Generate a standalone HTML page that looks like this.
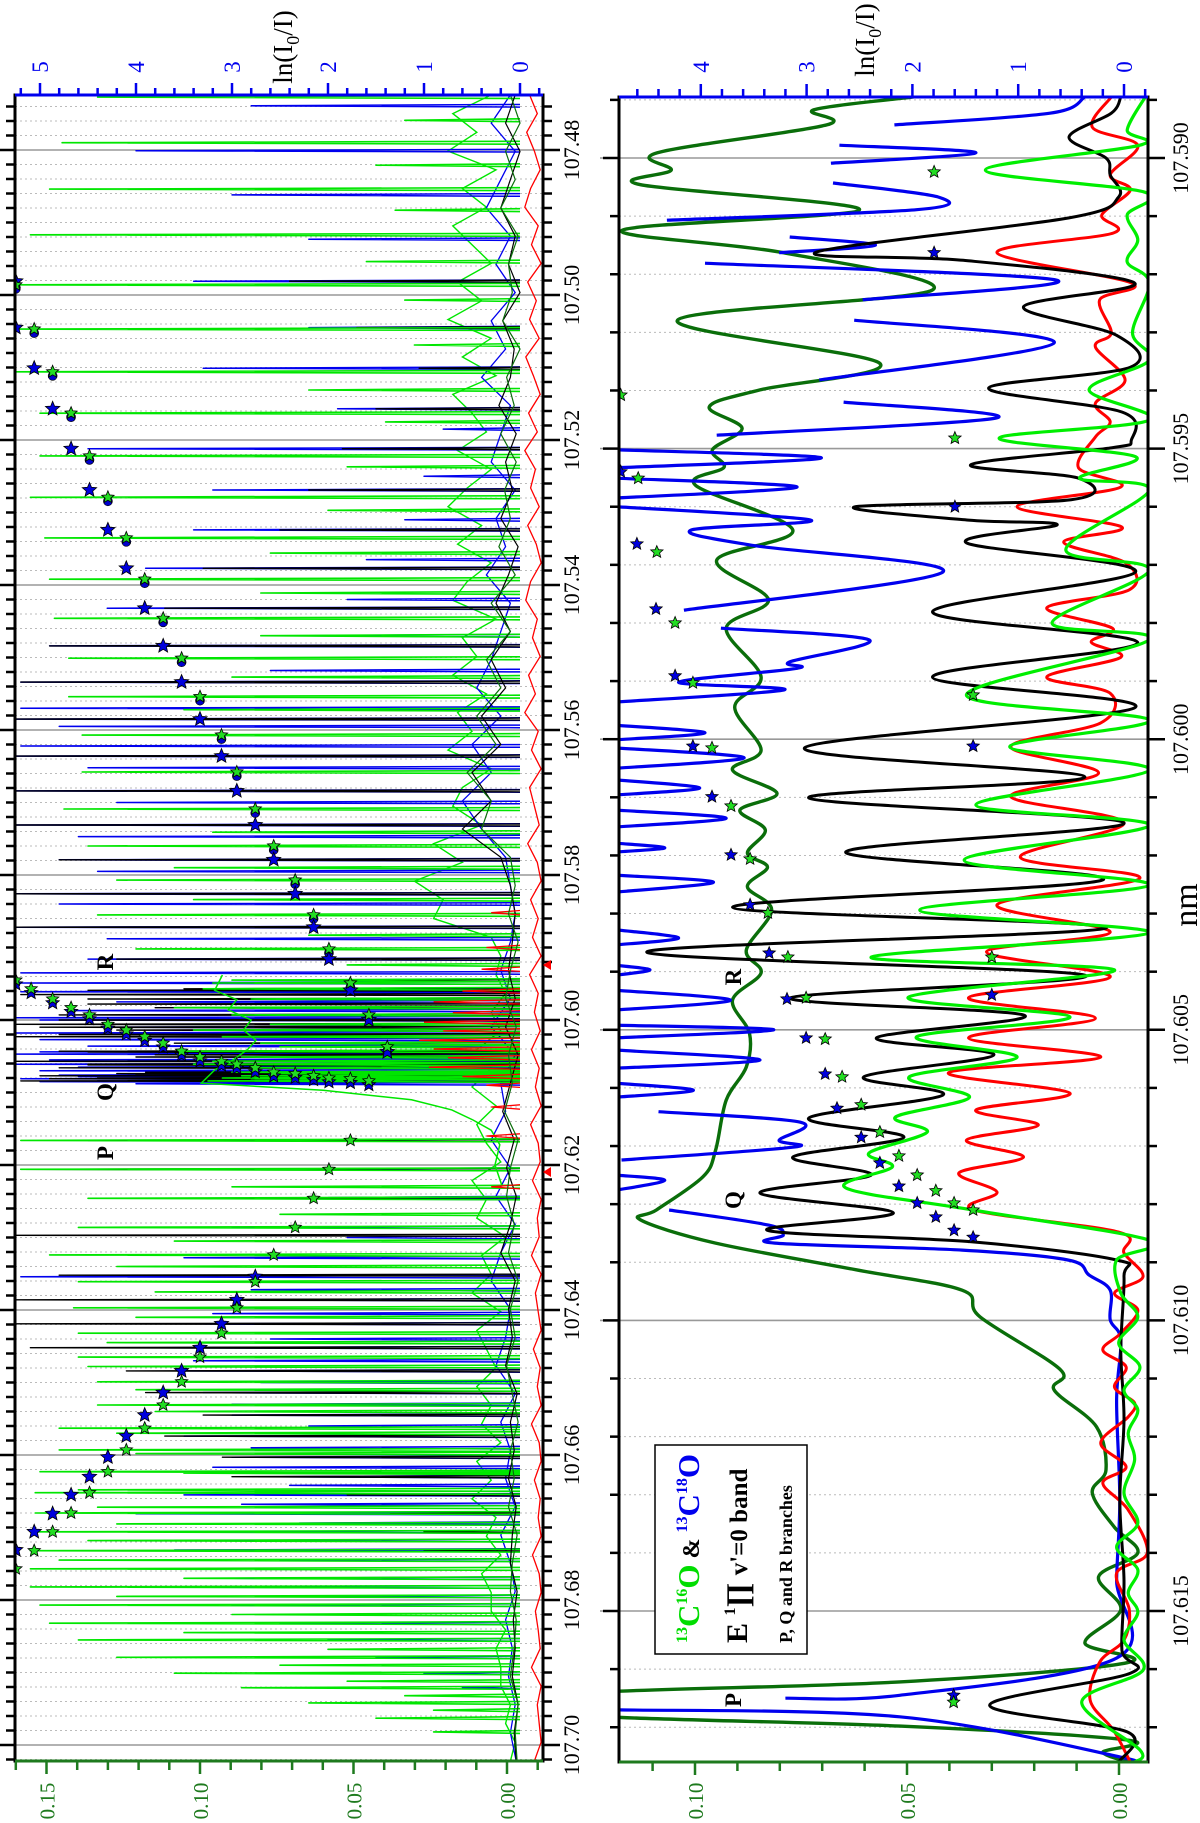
<!DOCTYPE html>
<html><head><meta charset="utf-8">
<style>
html,body{margin:0;padding:0;background:#fff;}
svg{display:block;}
text{font-family:"Liberation Serif",serif;}
</style></head>
<body>
<svg id="chart" xmlns="http://www.w3.org/2000/svg" width="1200" height="1823" viewBox="0 0 1200 1823">
<defs>
<clipPath id="clipTop"><rect x="15" y="95" width="528" height="1666"/></clipPath>
<clipPath id="clipBot"><rect x="619" y="97" width="529" height="1665"/></clipPath>
</defs>
<g id="layer"></g>
</svg>
<script>
// ===================== TOP PANEL DATA =====================
const topMajorTicks = [107.48,107.50,107.52,107.54,107.56,107.58,107.60,107.62,107.64,107.66,107.68,107.70];
const topMajorLabels = ["107.48","107.50","107.52","107.54","107.56","107.58","107.60","107.62","107.64","107.66","107.68","107.70"];
const topLnLabels = [0,1,2,3,4,5];
const topIntLabels = [0.00,0.05,0.10,0.15];

const greenLam = [107.4727,107.4790,107.4854,107.4917,107.4986,107.5047,107.5106,107.5163,107.5222,107.5279,107.5335,107.5392,107.5446,107.5501,107.5554,107.5607,107.5658,107.5709,107.5760,107.5807,107.5855,107.5902,107.5949,107.5993,107.6037,
 107.4759,107.4821,107.4883,107.4954,107.5007,107.5069,107.5131,107.5175,107.5237,107.5297,107.5356,107.5411,107.5470,107.5527,107.5572,107.5741,107.5790,107.5834,107.5883,107.5924,
 107.5945,107.5957,107.5971,107.5983,107.5993,107.6006,107.6014,107.6023,107.6032,107.6043,107.6051,107.6057,107.6061,107.6066,107.6072,107.6074,107.6077,107.6080,107.6081,107.6084,
 107.6166,107.6206,107.6246,107.6286,107.6324,107.6361,107.6397,107.6432,107.6465,107.6499,107.6531,107.6563,107.6593,107.6623,107.6652,107.6680,107.6706,107.6732,107.6757,
 107.6782,107.6807,107.6832,107.6855,107.6879,107.6901,107.6921,107.6942,107.6963,107.6982,
 107.6230,107.6268,107.6305,107.6340,107.6375,107.6410,107.6445,107.6478,107.6510,107.6540,107.6570,107.6598,107.6625,107.6648,107.6672,107.6695,107.6718,107.6745,107.6770,107.6795,107.6820,107.6845,107.6868,107.6890,107.6912,107.6932,107.6952];
const greenLn = [4.4,4.77,4.9,5.1,5.3,5.3,5.3,5.0,5.0,5.1,4.95,4.9,4.85,4.7,4.7,4.56,4.56,4.75,4.5,4.2,4.4,4.0,3.2,2.8,2.5,
 1.2,1.5,1.3,1.6,1.2,1.1,2.2,1.4,1.8,2.0,2.6,2.7,2.7,3.0,3.5,3.2,3.6,3.4,2.2,1.8,
 3.0,3.3,2.8,3.6,3.0,2.6,3.4,3.1,2.7,3.5,2.9,3.2,3.4,2.8,3.0,2.6,2.9,3.1,2.8,3.25,
 5.2,5.2,4.5,4.6,4.9,4.6,4.65,4.6,4.6,4.4,4.4,4.8,4.8,5.0,5.05,5.05,5.05,5.1,5.1,
 5.1,5.0,4.9,4.6,4.2,3.6,2.9,2.2,1.5,0.9,
 3.0,2.5,3.6,4.2,3.8,4.0,4.3,4.5,4.0,3.8,4.2,4.0,3.5,4.6,4.4,4.2,4.5,4.8,3.5,4.2,3.0,3.5,2.0,2.5,1.8,1.2,0.9];

const blueLam = [107.4739,107.4801,107.4862,107.4923,
 107.4981,107.5045,107.5101,107.5157,107.5212,107.5269,107.5324,107.5377,107.5432,107.5484,107.5534,107.5585,107.5636,107.5684,107.5731,107.5779,107.5826,107.5872,107.5916,107.5959,107.6000,107.6044,
 107.5570,107.5595,107.5622,107.5652,107.5700,107.5747,107.5795,107.5840,107.5888,107.5935,107.5185,107.5250,107.5310,107.5365,107.5420,107.5470,107.5518,
 107.5949,107.5961,107.5975,107.5987,107.5997,107.6010,107.6018,107.6027,107.6036,107.6047,107.6055,107.6061,107.6065,107.6070,107.6076,107.6078,107.6081,107.6084,107.6085,107.6088,
 107.6166,107.6206,107.6246,107.6286,
 107.6354,107.6386,107.6419,107.6452,107.6484,107.6514,107.6545,107.6574,107.6603,107.6630,107.6655,107.6681,107.6706,107.6731,
 107.6782,107.6807,107.6832,107.6855,107.6879,107.6901,107.6921,
 107.6245,107.6300,107.6328,107.6372,107.6405,107.6440,107.6470,107.6500,107.6530,107.6560,107.6590,107.6617,107.6642,107.6668,107.6694,107.6718,107.6745,107.6770,107.6795,107.6832];
const blueLn = [2.8,4.0,3.0,2.2,
 3.4,2.2,3.3,1.9,4.5,3.2,3.4,3.9,4.3,4.9,5.2,5.25,5.25,5.25,5.25,4.8,5.25,5.25,4.5,4.0,5.0,5.0,
 5.2,4.8,5.2,4.5,4.2,4.6,4.4,4.8,4.3,5.2,0.8,1.0,1.2,1.6,1.8,2.2,2.6,
 5.2,5.2,4.2,4.7,5.25,4.3,5.25,5.0,4.5,5.25,4.9,5.25,4.6,5.0,4.8,4.6,5.2,4.4,5.0,4.0,
 3.1,3.0,3.2,3.0,
 5.2,3.0,3.3,3.8,3.5,3.3,3.0,3.5,3.0,2.5,3.5,4.0,3.8,3.6,
 3.9,3.0,2.5,2.0,1.5,1.0,0.6,
 2.0,1.8,3.5,2.8,3.2,2.6,3.4,2.7,3.0,2.2,2.8,3.2,2.4,2.9,2.3,3.3,2.5,3.0,2.2,2.0];

const blackLam = [107.4981,107.5045,107.5101,107.5157,107.5212,107.5269,107.5324,107.5377,107.5432,107.5484,107.5534,107.5585,107.5636,107.5684,107.5731,107.5779,107.5826,107.5872,107.5916,107.5959,107.6000,107.6044,
 107.5945,107.5957,107.5971,107.5983,107.5993,107.6006,107.6014,107.6023,107.6032,107.6043,107.6051,107.6057,107.6061,107.6066,107.6072,107.6074,107.6077,107.6080,107.6081,107.6084,
 107.5965,107.5978,107.6010,107.6020,107.6048,107.6062,107.6075,
 107.6166,107.6206,107.6246,107.6297,107.6352,107.6386,107.6419,107.6452,107.6484,107.6514,107.6545,107.6574,107.6603,107.6630,107.6655,107.6681,107.6706,107.6731];
const blackLn = [2.4,1.7,1.05,1.5,1.85,2.2,2.5,3.3,3.7,4.9,5.2,5.25,5.25,5.25,5.25,4.8,5.25,5.25,4.2,4.5,4.8,4.5,
 2.3,3.5,4.5,3.8,4.8,5.25,4.2,5.25,3.6,4.8,4.0,5.25,4.5,4.8,3.9,4.2,5.0,4.4,4.9,5.2,
 5.2,4.5,5.0,4.8,3.8,4.5,4.0,
 4.5,5.2,3.0,5.25,4.8,5.25,5.25,5.1,4.1,3.9,3.3,3.7,3.1,3.0,1.8,1.35,1.0,1.0];

const redLam = [107.5852,107.5900,107.5930,107.5960,107.5975,107.5990,107.6003,107.6015,107.6028,107.6040,107.6052,107.6065,107.6078,107.6090,107.6120,107.6160,107.6230];
const redLn = [0.3,0.35,0.4,0.6,0.9,0.7,1.0,0.8,1.05,0.9,0.75,0.95,0.6,0.35,0.3,0.35,0.3];

const envLam = [107.5938,107.5959,107.5972,107.5986,107.6000,107.6014,107.6028,107.6041,107.6055,107.6069,107.6087,107.6097,107.6110,107.6124,107.6138,107.6152,107.6172,107.6200,107.6228];
const envLn = [3.10,3.18,2.95,3.04,2.80,2.88,2.75,2.84,2.99,3.18,3.32,2.05,1.13,0.71,0.49,0.30,0.21,0.26,0.19];

const noiseStart = 107.4724, noiseEnd = 107.7022;
const redNoise = [-0.1,-0.18,-0.07,-0.15,-0.21,-0.11,-0.05,-0.19,-0.12,-0.22,-0.08,-0.17,-0.1,-0.2,-0.06,-0.14,-0.21,-0.09,-0.18,-0.05,-0.16,-0.11,-0.2,-0.08,-0.17,-0.22,-0.11,-0.06,-0.18,-0.13,-0.21,-0.09,-0.16,-0.05,-0.19,-0.12,-0.22,-0.1,-0.15,-0.2,-0.08,-0.18,-0.22,-0.11,-0.19,-0.13,-0.22,-0.1,-0.19,-0.15,-0.21,-0.12,-0.2,-0.16,-0.22,-0.11,-0.19,-0.21,-0.13,-0.22,-0.18,-0.2,-0.12,-0.22,-0.16,-0.19,-0.22,-0.14,-0.21,-0.18,-0.22,-0.12,-0.2,-0.22,-0.15,-0.21,-0.19,-0.22,-0.13,-0.2,-0.22,-0.16,-0.19,-0.21,-0.12,-0.22,-0.18,-0.2,-0.22,-0.15];
const greenNoise = [0.3,0.7,0.45,0.75,0.25,0.6,0.35,0.7,0.5,0.3,0.65,0.4,0.75,0.3,0.6,0.25,0.7,0.5,0.35,0.65,0.3,0.55,0.75,0.4,0.65,0.3,0.55,0.7,0.25,0.6,0.45,0.7,0.35,0.65,0.5,0.75,0.3,0.6,0.7,0.4,0.9,0.6,1.1,0.8,0.9,0.3,0.2,0.25,0.15,0.3,0.2,0.45,0.3,0.5,0.25,0.45,0.35,0.2,0.5,0.35,0.45,0.15,0.4,0.3,0.5,0.2,0.45,0.35,0.25,0.45,0.3,0.4,0.2,0.45,0.3,0.5,0.25,0.35,0.2,0.4,0.3,0.3,0.15,0.25,0.2,0.2,0.1,0.15,0.05,0.1];
const blueNoise = [0.1,0.3,0.05,0.2,0.35,0.1,0.25,0.05,0.3,0.15,0.4,0.1,0.2,0.3,0.05,0.25,0.15,0.35,0.1,0.2,0.3,0.45,0.2,0.5,0.3,0.6,0.4,0.15,0.1,0.05,0.1,0.2,0.1,0.3,0.05,0.2,0.15,0.3,0.1,0.25,0.05,0.2,0.3,0.1,0.15,0.25,0.05,0.2,0.1,0.15,0.05,0.2,0.1,0.05,0.15,0.08,0.12,0.05,0.1,0.04];
const blackNoise = [0.05,0.15,0.0,0.1,0.2,0.05,0.12,0.0,0.18,0.06,0.1,0.22,0.04,0.15,0.08,0.2,0.02,0.12,0.25,0.1,0.3,0.15,0.4,0.2,0.5,0.3,0.6,0.2,0.1,0.05,0.08,0.12,0.05,0.15,0.02,0.1,0.18,0.06,0.14,0.04,0.1,0.2,0.05,0.12,0.08,0.15,0.03,0.1,0.06,0.12,0.04,0.08,0.1,0.03,0.07,0.05,0.08,0.02,0.06,0.04];
const dgreenNoise = [0.1,0.0,0.15,0.05,0.2,0.02,0.12,0.08,0.18,0.0,0.14,0.06,0.2,0.04,0.16,0.1,0.22,0.05,0.3,0.1,0.35,0.2,0.45,0.25,0.55,0.3,0.4,0.1,0.05,0.12,0.02,0.1,0.15,0.04,0.12,0.08,0.16,0.02,0.1,0.14,0.06,0.12,0.02,0.1,0.05,0.14,0.08,0.02,0.1,0.06,0.12,0.03,0.08,0.1,0.04,0.06,0.1,0.02,0.05,0.03];

const tGreenStarLam = [107.4986,107.5047,107.5106,107.5163,107.5222,107.5279,107.5335,107.5392,107.5446,107.5501,107.5554,107.5607,107.5658,107.5709,107.5760,107.5807,107.5855,107.5902,107.5949,107.5993,107.6037];
const tGreenStarInt = [0.160,0.154,0.148,0.142,0.136,0.130,0.124,0.118,0.112,0.106,0.100,0.093,0.088,0.082,0.076,0.069,0.063,0.058,0.051,0.045,0.039];
const tBlueStarLam = [107.4981,107.5045,107.5101,107.5157,107.5212,107.5269,107.5324,107.5377,107.5432,107.5484,107.5534,107.5585,107.5636,107.5684,107.5731,107.5779,107.5826,107.5872,107.5916,107.5959,107.6000,107.6044];
const tBlueStarInt = [0.160,0.160,0.154,0.148,0.142,0.136,0.130,0.124,0.118,0.112,0.106,0.100,0.093,0.088,0.082,0.076,0.069,0.063,0.058,0.051,0.045,0.039];
const tQStarLam = [107.5945,107.5957,107.5971,107.5983,107.5993,107.6006,107.6014,107.6023,107.6032,107.6043,107.6051,107.6057,107.6061,107.6066,107.6072,107.6074,107.6077,107.6080,107.6081,107.6084];
const tQStarInt = [0.160,0.155,0.148,0.142,0.136,0.130,0.124,0.118,0.112,0.106,0.100,0.093,0.088,0.082,0.076,0.069,0.063,0.058,0.051,0.045];
const tPGreenStarLam = [107.6166,107.6206,107.6246,107.6286,107.6324,107.6361,107.6397,107.6432,107.6465,107.6499,107.6531,107.6563,107.6593,107.6623,107.6652,107.6680,107.6706,107.6732,107.6757];
const tPGreenStarInt = [0.051,0.058,0.063,0.069,0.076,0.082,0.088,0.093,0.100,0.106,0.112,0.118,0.124,0.130,0.136,0.142,0.148,0.154,0.160];
const tPBlueStarLam = [107.6354,107.6386,107.6419,107.6452,107.6484,107.6514,107.6545,107.6574,107.6603,107.6630,107.6655,107.6681,107.6706,107.6731];
const tPBlueStarInt = [0.082,0.088,0.093,0.100,0.106,0.112,0.118,0.124,0.130,0.136,0.142,0.148,0.154,0.160];

// ===================== BOTTOM PANEL DATA =====================
const botMajorTicks = [107.590,107.595,107.600,107.605,107.610,107.615];
const botMajorLabels = ["107.590","107.595","107.600","107.605","107.610","107.615"];
const botLnLabels = [0,1,2,3,4];
const botIntLabels = [0.00,0.05,0.10];

const dgLam = [107.58895,107.58917,107.58943,107.58991,107.59021,107.59046,107.59089,107.59124,107.59163,107.59227,107.59279,107.59353,107.59399,107.59428,107.59465,107.59502,107.59532,107.59563,107.59640,107.59692,107.59760,107.59809,107.59893,107.59945,107.60019,107.60053,107.60093,107.60122,107.60156,107.60196,107.60220,107.60254,107.60294,107.60363,107.60402,107.60449,107.60506,107.60564,107.60621,107.60707,107.60753,107.60810,107.60827,107.60867,107.60913,107.60948,107.60994,107.61085,107.61120,107.61183,107.61257,107.61297,107.61356,107.61400,107.61441,107.61498,107.61555,107.61589,107.61622,107.61639,107.61660,107.61682,107.61698,107.61722,107.61743,107.61760];
const dgLn = [1.99,2.93,2.81,4.41,4.28,4.57,2.50,4.74,3.22,1.81,4.22,2.31,3.44,3.92,3.61,3.89,3.78,4.05,3.13,3.85,3.36,3.76,3.43,3.68,3.43,3.70,3.28,3.63,3.39,3.56,3.37,3.56,3.33,3.57,3.43,3.70,3.54,3.57,3.76,3.86,3.98,4.42,4.57,3.86,2.53,1.53,1.36,0.60,0.66,0.26,0.17,0.30,0.09,-0.13,0.24,0.03,0.37,-0.03,2.12,4.9,6.5,4.9,2.12,-0.03,0.20,-0.05];

const bkLam = [107.58895,107.58923,107.58964,107.59000,107.59029,107.59067,107.59103,107.59162,107.59176,107.59215,107.59256,107.59305,107.59360,107.59396,107.59437,107.59485,107.59499,107.59528,107.59551,107.59588,107.59600,107.59623,107.59631,107.59662,107.59712,107.59781,107.59834,107.59893,107.59946,107.60015,107.60065,107.60101,107.60144,107.60194,107.60242,107.60289,107.60325,107.60366,107.60406,107.60445,107.60475,107.60514,107.60543,107.60581,107.60612,107.60652,107.60685,107.60719,107.60750,107.60781,107.60815,107.60845,107.60865,107.60896,107.60925,107.61051,107.61171,107.61309,107.61447,107.61567,107.61607,107.61662,107.61708,107.61760];
const bkLn = [0.03,0.12,0.52,0.17,0.13,0.05,0.52,2.91,1.52,-0.10,0.95,0.07,-0.06,1.28,0.02,-0.07,0.13,1.45,0.43,0.50,2.54,1.47,0.63,1.49,-0.11,1.81,-0.13,1.81,-0.10,3.02,0.37,2.98,0.00,2.63,0.20,3.70,0.17,4.51,0.37,3.15,0.94,2.34,1.23,2.46,1.71,2.98,2.08,3.13,2.39,3.44,2.18,3.37,1.43,0.07,0.00,0.03,0.00,0.04,0.00,0.02,-0.06,1.27,-0.03,0.05];

const rdLam = [107.58895,107.58947,107.58978,107.59029,107.59055,107.59098,107.59129,107.59163,107.59215,107.59244,107.59301,107.59325,107.59382,107.59422,107.59454,107.59480,107.59533,107.59566,107.59600,107.59635,107.59661,107.59697,107.59743,107.59774,107.59809,107.59833,107.59859,107.59893,107.59921,107.59972,107.60013,107.60058,107.60099,107.60144,107.60203,107.60239,107.60285,107.60332,107.60366,107.60409,107.60445,107.60480,107.60514,107.60547,107.60574,107.60609,107.60638,107.60664,107.60690,107.60719,107.60746,107.60779,107.60810,107.60848,107.60884,107.60925,107.60953,107.60982,107.61022,107.61051,107.61080,107.61115,107.61142,107.61166,107.61211,107.61252,107.61280,107.61326,107.61400,107.61435,107.61498,107.61550,107.61588,107.61653,107.61705,107.61760];
const rdLn = [0.12,0.30,-0.13,0.13,-0.06,0.21,0.10,1.20,-0.07,0.23,0.12,0.27,-0.01,0.27,0.13,0.27,0.43,0.03,1.01,0.02,0.57,-0.02,-0.05,0.73,0.11,0.31,0.03,0.73,0.13,0.22,1.07,0.24,1.07,0.00,0.98,-0.15,1.20,0.13,1.30,0.13,1.47,0.27,1.47,0.22,1.66,0.51,1.40,0.81,1.49,0.95,1.56,1.20,1.42,0.05,0.00,-0.18,0.09,-0.13,0.03,0.20,-0.02,0.09,-0.10,-0.04,0.22,-0.02,0.20,-0.04,-0.22,0.07,-0.05,0.00,0.23,0.32,0.10,-0.06];

const lgLam = [107.58895,107.58952,107.58978,107.59021,107.59059,107.59098,107.59141,107.59179,107.59215,107.59301,107.59348,107.59399,107.59451,107.59482,107.59514,107.59551,107.59571,107.59674,107.59709,107.59800,107.59829,107.59924,107.59967,107.60013,107.60053,107.60113,107.60148,107.60208,107.60251,107.60294,107.60333,107.60375,107.60397,107.60444,107.60478,107.60512,107.60547,107.60581,107.60616,107.60650,107.60676,107.60712,107.60736,107.60772,107.60810,107.60862,107.60896,107.60953,107.60994,107.61039,107.61080,107.61120,107.61154,107.61194,107.61240,107.61297,107.61349,107.61390,107.61429,107.61469,107.61503,107.61550,107.61602,107.61657,107.61739,107.61760];
const lgLn = [-0.20,-0.03,-0.15,1.31,-0.20,-0.03,-0.13,-0.03,-0.24,-0.08,-0.24,0.33,-0.24,1.18,-0.11,0.42,-0.24,0.55,-0.24,0.68,-0.24,1.49,-0.24,1.08,-0.24,1.40,-0.24,1.51,-0.24,1.93,-0.24,2.39,0.09,2.04,0.51,1.96,1.01,2.03,1.46,2.16,1.86,2.41,2.19,2.63,1.43,-0.24,0.07,0.03,-0.13,0.05,-0.15,0.00,-0.13,-0.04,-0.10,0.00,-0.13,0.07,-0.13,-0.04,-0.13,0.00,-0.18,0.40,-0.15,-0.10];

const blLam = [107.58895,107.58923,107.58943,null,107.58978,107.58991,107.59009,null,107.59043,107.59067,107.59089,107.59107,null,107.59136,107.59150,107.59163,null,107.59181,107.59210,107.59244,null,107.59279,107.59318,107.59382,null,107.59420,107.59447,107.59477,null,107.59502,107.59516,107.59533,null,107.59551,107.59566,107.59585,null,107.59600,107.59623,107.59640,107.59666,107.59712,107.59778,null,107.59809,107.59829,107.59867,107.59878,107.59902,107.59915,107.59936,null,107.59976,107.59989,107.60001,null,107.60015,107.60032,107.60050,null,107.60070,107.60084,107.60096,null,107.60122,107.60136,107.60151,null,107.60179,107.60187,107.60194,null,107.60234,107.60246,107.60263,null,107.60328,107.60342,107.60354,null,107.60389,107.60397,107.60406,null,107.60432,107.60449,107.60466,null,107.60492,107.60500,107.60514,null,107.60535,107.60552,107.60566,null,107.60592,107.60604,107.60616,null,107.60641,107.60659,107.60690,107.60702,107.60724,null,107.60750,107.60759,107.60776,null,107.60810,107.60836,107.60853,107.60867,107.60879,107.60896,107.60922,107.60948,107.60999,107.61034,107.61137,107.61309,107.61447,107.61581,107.61645,107.61650,null,107.61670,107.61682,107.61751,107.61760];
const blLn = [0.37,0.70,2.17,null,2.69,1.40,2.77,null,2.75,1.76,1.96,4.32,null,3.16,2.35,3.26,null,3.96,0.64,2.47,null,2.55,0.66,2.88,null,2.65,1.20,3.85,null,4.8,2.86,4.8,null,4.8,3.09,4.8,null,4.8,2.96,4.09,3.53,1.71,4.16,null,3.81,2.41,3.16,3.09,4.21,3.21,4.8,null,4.8,3.96,4.8,null,4.8,3.59,4.8,null,4.8,4.01,4.8,null,4.8,3.76,4.8,null,4.8,4.34,4.8,null,4.8,3.88,4.8,null,4.8,4.21,4.8,null,4.8,4.48,4.8,null,4.8,3.72,4.8,null,4.8,3.31,4.8,null,4.8,3.44,4.8,null,4.8,4.07,4.8,null,4.40,3.06,3.26,3.13,4.75,null,4.8,4.34,4.8,null,4.3,3.36,3.22,3.30,1.53,0.53,0.33,0.13,0.13,0.03,0.07,0.04,0.07,0.07,2.12,3.2,null,4.8,2.12,0.04,0.03];

const bGreenStarLam = [107.59024,107.59408,107.59482,107.59551,107.59678,107.59800,107.59903,107.59924,107.60015,107.60115,107.60206,107.60299,107.60375,107.60375,107.60445,107.60516,107.60581,107.60629,107.60676,107.60717,107.60750,107.60777,107.60798,107.60810,107.61657];
const bGreenStarInt = [0.0436,0.1175,0.0387,0.1134,0.1090,0.1047,0.1005,0.0344,0.0960,0.0915,0.0870,0.0828,0.0781,0.0300,0.0738,0.0693,0.0653,0.0608,0.0564,0.0519,0.0476,0.0432,0.0389,0.0344,0.0390];
const bBlueStarLam = [107.59163,107.59540,107.59600,107.59664,107.59776,107.59891,107.60012,107.60012,107.60099,107.60199,107.60285,107.60368,107.60440,107.60447,107.60514,107.60576,107.60635,107.60685,107.60729,107.60769,107.60798,107.60822,107.60845,107.60857,107.61645];
const bBlueStarInt = [0.0436,0.1175,0.0387,0.1137,0.1092,0.1047,0.1005,0.0344,0.0960,0.0915,0.0870,0.0825,0.0300,0.0783,0.0738,0.0693,0.0665,0.0608,0.0564,0.0519,0.0476,0.0432,0.0389,0.0344,0.0390];

// ===================== AXES =====================
const NS = "http://www.w3.org/2000/svg";
const layer = document.getElementById('layer');
function ty(l){ return 150 + (l - 107.48) * 7250; }
function txLn(v){ return 520 - 96 * v; }
function txI(v){ return 507 - 3070 * v; }
function by(l){ return 158 + (l - 107.59) * 58120; }
function bxLn(v){ return 1124 - 105.8 * v; }
function bxI(v){ return 1119 - 4240 * v; }

function el(tag, attrs, parent){
  const e = document.createElementNS(NS, tag);
  for (const k in attrs) e.setAttribute(k, attrs[k]);
  (parent || layer).appendChild(e);
  return e;
}
function starPts(cx, cy, r){
  let p = [];
  for (let i = 0; i < 10; i++){
    const a = i*Math.PI/5 - Math.PI/2;
    const rr = (i % 2 === 0) ? r : r*0.45;
    p.push((cx + rr*Math.cos(a)).toFixed(1) + ',' + (cy + rr*Math.sin(a)).toFixed(1));
  }
  return p.join(' ');
}
function rotText(x, y, str, size, fill, anchor, weight, name){
  const t = el('text', {transform:`translate(${x},${y}) rotate(-90)`, 'font-size':size, fill:fill, 'text-anchor':anchor||'middle', 'font-weight':weight||'normal'});
  t.textContent = str;
  
  
  return t;
}

// ---------- TOP PANEL FRAME ----------
const gTopGrid = el('g', {});


for (let k = 0; k <= 115; k++){
  const l = 107.474 + k*0.002;
  const y = ty(l);
  if (y < 95 || y > 1761) continue;
  const major = Math.abs(((l - 107.48)/0.02) - Math.round((l - 107.48)/0.02)) < 0.01;
  if (major){
    const ln = el('line', {x1:0, x2:553, y1:y, y2:y, stroke:'#999', 'stroke-width':1.6}, gTopGrid);
    
    
    el('line', {x1:0, x2:15, y1:y, y2:y, stroke:'#000', 'stroke-width':2.5}, gTopGrid);
    el('line', {x1:543, x2:560, y1:y, y2:y, stroke:'#000', 'stroke-width':2.5}, gTopGrid);
  } else {
    const ln = el('line', {x1:15, x2:543, y1:y, y2:y, stroke:'#bbb', 'stroke-width':1, 'stroke-dasharray':'2,3'}, gTopGrid);
    
    
    el('line', {x1:6, x2:15, y1:y, y2:y, stroke:'#000', 'stroke-width':2.5}, gTopGrid);
    el('line', {x1:543, x2:552, y1:y, y2:y, stroke:'#000', 'stroke-width':2.5}, gTopGrid);
  }
}
topMajorTicks.forEach((l, i) => {
  rotText(579, ty(l), topMajorLabels[i], 22, '#000', 'middle', 'normal', 'top-wavelength-tick-label');
});
for (let k = -1; k <= 26; k++){
  const v = k*0.2;
  const x = txLn(v);
  if (x < 15 || x > 543) continue;
  const major = (k % 5 === 0);
  el('line', {x1:x, x2:x, y1:major?83:88, y2:95, stroke:'#0000ee', 'stroke-width':2.5});
}
topLnLabels.forEach(v => { rotText(txLn(v)+8, 67, String(v), 23, '#0000ee', 'middle', 'normal', 'top-ln-tick-label'); });
for (let k = -1; k <= 16; k++){
  const v = k*0.01, x = txI(v);
  if (x < 15 || x > 543) continue;
  el('line', {x1:x, x2:x, y1:1761, y2:(k%5===0)?1774:1770, stroke:'#1e7a1e', 'stroke-width':2.5});
}
topIntLabels.forEach(v => { rotText(txI(v)+8, 1801, v.toFixed(2), 21, '#1e7a1e', 'middle', 'normal', 'top-intensity-tick-label'); });

// ---------- TOP PANEL DATA ----------
const gTop = el('g', {'clip-path':'url(#clipTop)'});



function spikePath(lams, lns, w){
  let d = '';
  for (let i = 0; i < lams.length; i++){
    const y = ty(lams[i]), x = txLn(lns[i]);
    d += `M${txLn(0).toFixed(1)},${ty(lams[i]-w).toFixed(1)}L${x.toFixed(1)},${y.toFixed(1)}L${txLn(0).toFixed(1)},${ty(lams[i]+w).toFixed(1)}`;
  }
  return d;
}
function noisePath(arr){
  let d = '';
  const step = (noiseEnd - noiseStart)/(arr.length - 1);
  arr.forEach((v, i) => { d += (i ? 'L' : 'M') + txLn(v).toFixed(1) + ',' + ty(noiseStart + i*step).toFixed(1); });
  return d;
}
function linePath(lams, lns, fx, fy){
  let d = '';
  lams.forEach((l, i) => { d += (i ? 'L' : 'M') + fx(lns[i]).toFixed(1) + ',' + fy(l).toFixed(1); });
  return d;
}

const pGN = el('path', {d:noisePath(greenNoise), fill:'none', stroke:'#00e600', 'stroke-width':1.4}, gTop);


const pBN = el('path', {d:noisePath(blueNoise), fill:'none', stroke:'#0000ee', 'stroke-width':1.3}, gTop);


const pBl = el('path', {d:spikePath(blueLam, blueLn, 0.00018), fill:'none', stroke:'#0000ee', 'stroke-width':1.5, 'stroke-linejoin':'round'}, gTop);


const pBk = el('path', {d:spikePath(blackLam, blackLn, 0.00014), fill:'none', stroke:'#000', 'stroke-width':1.4, 'stroke-linejoin':'round'}, gTop);


const pGr = el('path', {d:spikePath(greenLam, greenLn, 0.0002), fill:'none', stroke:'#00e600', 'stroke-width':1.6, 'stroke-linejoin':'round'}, gTop);


const pEnv = el('path', {d:linePath(envLam, envLn, txLn, ty), fill:'none', stroke:'#00e600', 'stroke-width':1.5}, gTop);


const pKN = el('path', {d:noisePath(blackNoise), fill:'none', stroke:'#000', 'stroke-width':1.2}, gTop);


const pRN = el('path', {d:noisePath(redNoise), fill:'none', stroke:'#ff0000', 'stroke-width':1.3}, gTop);


const pRd = el('path', {d:spikePath(redLam, redLn, 0.0003), fill:'none', stroke:'#ff0000', 'stroke-width':1.3}, gTop);


const pDN = el('path', {d:noisePath(dgreenNoise), fill:'none', stroke:'#0a6e0a', 'stroke-width':1.2}, gTop);



tGreenStarLam.forEach((l, i) => {
  const c = el('circle', {cx:txI(tGreenStarInt[i]), cy:ty(l)+4, r:4.5, fill:'#0000cc', stroke:'#000', 'stroke-width':0.6}, gTop);
  
  
});
function drawStars(lams, ints, fx, fy, r, fill, g, name, dy){
  lams.forEach((l, i) => {
    const s = el('polygon', {points:starPts(fx(ints[i]), fy(l) + (dy||0), r), fill:fill, stroke:'#000', 'stroke-width':0.8}, g);
    
    
  });
}
drawStars(tBlueStarLam, tBlueStarInt, txI, ty, 7.5, '#0000dd', gTop, 'blue-r-star');
drawStars(tGreenStarLam, tGreenStarInt, txI, ty, 6.5, '#22dd22', gTop, 'green-r-star');
drawStars(tQStarLam, tQStarInt, txI, ty, 7, '#0000dd', gTop, 'blue-q-star', 4);
drawStars(tQStarLam, tQStarInt, txI, ty, 6.5, '#22dd22', gTop, 'green-q-star');
drawStars(tPBlueStarLam, tPBlueStarInt, txI, ty, 7.5, '#0000dd', gTop, 'blue-p-star');
drawStars(tPGreenStarLam, tPGreenStarInt, txI, ty, 6.5, '#22dd22', gTop, 'green-p-star');

const fT = el('rect', {x:15, y:95, width:528, height:1666, fill:'none', stroke:'#000', 'stroke-width':3});


el('line', {x1:15, x2:543, y1:95, y2:95, stroke:'#0000ee', 'stroke-width':3});
el('line', {x1:15, x2:543, y1:1761, y2:1761, stroke:'#1e7a1e', 'stroke-width':3});
[965, 1172].forEach(y => {
  const tri = el('polygon', {points:`${543},${y} ${551},${y-5} ${551},${y+5}`, fill:'#ff0000'});
  
  
});
rotText(113, 962, 'R', 23, '#000', 'middle', 'bold', 'top-r-branch-label');
rotText(113, 1092, 'Q', 23, '#000', 'middle', 'bold', 'top-q-branch-label');
rotText(113, 1153, 'P', 23, '#000', 'middle', 'bold', 'top-p-branch-label');

// ---------- BOTTOM PANEL FRAME ----------
const gBotGrid = el('g', {});


for (let k = 0; k <= 30; k++){
  const l = 107.588 + k*0.001;
  const y = by(l);
  if (y < 97 || y > 1762) continue;
  const major = Math.abs(((l - 107.59)/0.005) - Math.round((l - 107.59)/0.005)) < 0.01;
  if (major){
    el('line', {x1:600, x2:1160, y1:y, y2:y, stroke:'#999', 'stroke-width':1.6}, gBotGrid);
    el('line', {x1:603, x2:619, y1:y, y2:y, stroke:'#000', 'stroke-width':2.5}, gBotGrid);
    el('line', {x1:1148, x2:1165, y1:y, y2:y, stroke:'#000', 'stroke-width':2.5}, gBotGrid);
  } else {
    el('line', {x1:619, x2:1148, y1:y, y2:y, stroke:'#bbb', 'stroke-width':1, 'stroke-dasharray':'2,3'}, gBotGrid);
    el('line', {x1:610, x2:619, y1:y, y2:y, stroke:'#000', 'stroke-width':2.5}, gBotGrid);
    el('line', {x1:1148, x2:1157, y1:y, y2:y, stroke:'#000', 'stroke-width':2.5}, gBotGrid);
  }
}
botMajorTicks.forEach((l, i) => { rotText(1188, by(l), botMajorLabels[i], 22, '#000', 'middle', 'normal', 'bottom-wavelength-tick-label'); });
for (let k = -1; k <= 24; k++){
  const v = k*0.2, x = bxLn(v);
  if (x < 619 || x > 1148) continue;
  el('line', {x1:x, x2:x, y1:(k%5===0)?84:89, y2:97, stroke:'#0000ee', 'stroke-width':2.5});
}
botLnLabels.forEach(v => { rotText(bxLn(v)+8, 67, String(v), 23, '#0000ee', 'middle', 'normal', 'bottom-ln-tick-label'); });
for (let k = 0; k <= 11; k++){
  const v = k*0.01, x = bxI(v);
  if (x < 619 || x > 1148) continue;
  el('line', {x1:x, x2:x, y1:1762, y2:(k%5===0)?1775:1771, stroke:'#1e7a1e', 'stroke-width':2.5});
}
botIntLabels.forEach(v => { rotText(bxI(v)+8, 1801, v.toFixed(2), 21, '#1e7a1e', 'middle', 'normal', 'bottom-intensity-tick-label'); });

// ---------- BOTTOM PANEL DATA ----------
const gBot = el('g', {'clip-path':'url(#clipBot)'});



function smoothPath(lams, lns){
  let d = '', seg = [];
  const flush = () => {
    if (seg.length < 2){ seg = []; return; }
    d += `M${seg[0][0].toFixed(1)},${seg[0][1].toFixed(1)}`;
    for (let i = 0; i < seg.length - 1; i++){
      const p0 = seg[i-1] || seg[i], p1 = seg[i], p2 = seg[i+1], p3 = seg[i+2] || p2;
      const c1 = [p1[0] + (p2[0]-p0[0])/6, p1[1] + (p2[1]-p0[1])/6];
      const c2 = [p2[0] - (p3[0]-p1[0])/6, p2[1] - (p3[1]-p1[1])/6];
      d += `C${c1[0].toFixed(1)},${c1[1].toFixed(1)} ${c2[0].toFixed(1)},${c2[1].toFixed(1)} ${p2[0].toFixed(1)},${p2[1].toFixed(1)}`;
    }
    seg = [];
  };
  for (let i = 0; i < lams.length; i++){
    if (lams[i] === null){ flush(); continue; }
    seg.push([bxLn(lns[i]), by(lams[i])]);
  }
  flush();
  return d;
}
const sDG = el('path', {d:smoothPath(dgLam, dgLn), fill:'none', stroke:'#0a6e0a', 'stroke-width':3.4, 'stroke-linejoin':'round'}, gBot);


const sBL = el('path', {d:smoothPath(blLam, blLn), fill:'none', stroke:'#0000ee', 'stroke-width':3.2, 'stroke-linejoin':'round'}, gBot);


const sRD = el('path', {d:smoothPath(rdLam, rdLn), fill:'none', stroke:'#ff0000', 'stroke-width':3, 'stroke-linejoin':'round'}, gBot);


const sBK = el('path', {d:smoothPath(bkLam, bkLn), fill:'none', stroke:'#000', 'stroke-width':3, 'stroke-linejoin':'round'}, gBot);


const sLG = el('path', {d:smoothPath(lgLam, lgLn), fill:'none', stroke:'#00ee00', 'stroke-width':3.2, 'stroke-linejoin':'round'}, gBot);



drawStars(bBlueStarLam, bBlueStarInt, bxI, by, 6.5, '#0000dd', gBot, 'bottom-blue-star');
drawStars(bGreenStarLam, bGreenStarInt, bxI, by, 6.5, '#22dd22', gBot, 'bottom-green-star');

const fB = el('rect', {x:619, y:97, width:529, height:1665, fill:'none', stroke:'#000', 'stroke-width':3});


el('line', {x1:619, x2:1148, y1:97, y2:97, stroke:'#0000ee', 'stroke-width':3});
el('line', {x1:619, x2:1148, y1:1762, y2:1762, stroke:'#1e7a1e', 'stroke-width':3});

rotText(741, 977, 'R', 23, '#000', 'middle', 'bold', 'bottom-r-branch-label');
rotText(741, 1200, 'Q', 23, '#000', 'middle', 'bold', 'bottom-q-branch-label');
rotText(741, 1700, 'P', 23, '#000', 'middle', 'bold', 'bottom-p-branch-label');
rotText(1197, 905, 'nm', 34, '#000', 'middle', 'normal', 'x-axis-title');
</script>
<script>
(function(){
  const NS = "http://www.w3.org/2000/svg";
  const layer = document.getElementById('layer');
  function title(x, y, name){
    const t = document.createElementNS(NS, 'text');
    t.setAttribute('transform', `translate(${x},${y}) rotate(-90)`);
    t.setAttribute('font-size', '27');
    t.setAttribute('text-anchor', 'middle');
    t.setAttribute('fill', '#000');
    
    
    t.innerHTML = 'ln(I<tspan font-size="18" dy="7">0</tspan><tspan dy="-7">/I)</tspan>';
    layer.appendChild(t);
  }
  title(292, 47, 'top-ln-axis-title');
  title(874, 40, 'bottom-ln-axis-title');

  const box = document.createElementNS(NS, 'rect');
  box.setAttribute('x', 655); box.setAttribute('y', 1445);
  box.setAttribute('width', 152); box.setAttribute('height', 209);
  box.setAttribute('fill', '#fff'); box.setAttribute('stroke', '#000'); box.setAttribute('stroke-width', 1.5);
  
  
  layer.appendChild(box);

  function legLine(x, html, size, name){
    const t = document.createElementNS(NS, 'text');
    t.setAttribute('transform', `translate(${x},1643) rotate(-90)`);
    t.setAttribute('font-size', size);
    t.setAttribute('font-weight', 'bold');
    t.setAttribute('text-anchor', 'start');
    
    
    t.innerHTML = html;
    layer.appendChild(t);
  }
  legLine(699, '<tspan fill="#00dd00" font-size="16" dy="-12">13</tspan><tspan fill="#00dd00" dy="12">C</tspan><tspan fill="#00dd00" font-size="16" dy="-12">16</tspan><tspan fill="#00dd00" dy="12">O</tspan><tspan fill="#000" font-size="24"> &amp; </tspan><tspan fill="#0000ee" font-size="16" dy="-12">13</tspan><tspan fill="#0000ee" dy="12">C</tspan><tspan fill="#0000ee" font-size="16" dy="-12">18</tspan><tspan fill="#0000ee" dy="12">O</tspan>', 31, 'legend-title');
  legLine(747, '<tspan fill="#000">E </tspan><tspan font-size="16" dy="-12">1</tspan><tspan dy="12">∏ </tspan><tspan font-size="25">v\'=0 band</tspan>', 30, 'legend-band');
  legLine(792, 'P, Q and R branches', 18, 'legend-branches');
})();
</script>
</body></html>
